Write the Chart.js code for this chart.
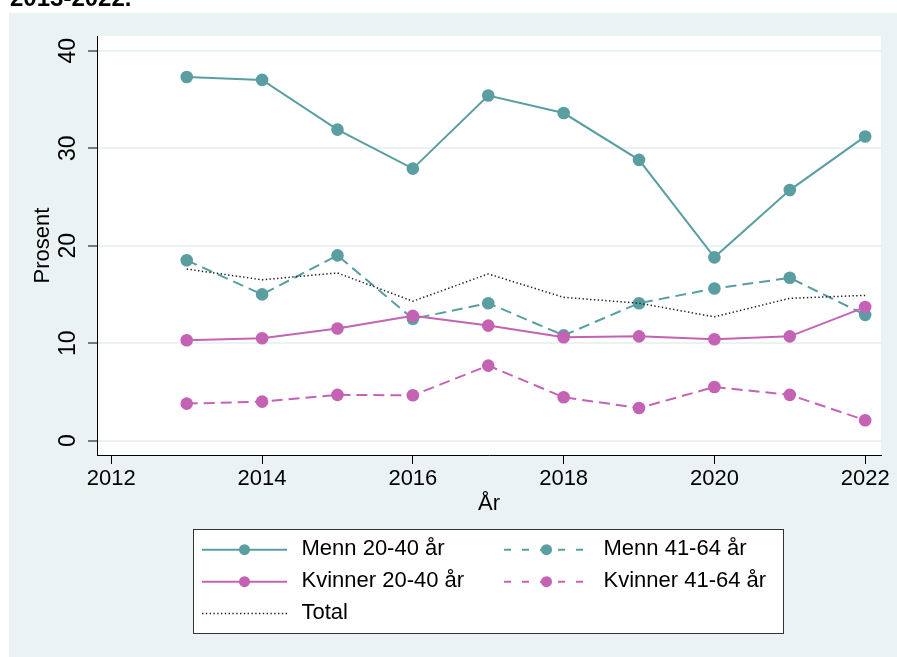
<!DOCTYPE html>
<html>
<head>
<meta charset="utf-8">
<script src="https://cdn.jsdelivr.net/npm/chart.js@4.4.1/dist/chart.umd.min.js"></script>
<style>
  body { margin: 0; background: #fff; }
  #wrap { position: relative; width: 897px; height: 657px; overflow: hidden; }
  #note { position: absolute; left: 10px; top: -14px; font: bold 24px "Liberation Sans", Arial, sans-serif; line-height: 24px; color: #000; white-space: nowrap; z-index: 2; }
  canvas { position: absolute; left: 0; top: 0; }
</style>
</head>
<body>
<div id="wrap">
  <div id="note">2013-2022.</div>
  <canvas id="chart" width="897" height="657"></canvas>
</div>
<script>
const years = [2013, 2014, 2015, 2016, 2017, 2018, 2019, 2020, 2021, 2022];
const mennYoung = [37.3, 37.0, 31.9, 27.9, 35.4, 33.6, 28.8, 18.8, 25.7, 31.2];
const mennOld = [18.5, 15.0, 19.0, 12.5, 14.1, 10.8, 14.1, 15.6, 16.7, 12.9];
const kvinnerYoung = [10.3, 10.5, 11.5, 12.8, 11.8, 10.6, 10.7, 10.4, 10.7, 13.7];
const kvinnerOld = [3.8, 4.0, 4.7, 4.65, 7.7, 4.45, 3.35, 5.5, 4.7, 2.1];
const total = [17.6, 16.5, 17.2, 14.3, 17.1, 14.7, 14.1, 12.7, 14.6, 14.9];
const seriesNames = ['Menn 20-40 år', 'Menn 41-64 år', 'Kvinner 20-40 år', 'Kvinner 41-64 år', 'Total'];
const xTicks = [2012, 2014, 2016, 2018, 2020, 2022];
const yTicks = [0, 10, 20, 30, 40];

const teal = '#5a9ea1';
const pink = '#c463b3';
const bg = '#eaf2f3';
const FONT = '"Liberation Sans", Arial, sans-serif';

Chart.defaults.font.family = FONT;
Chart.defaults.color = '#000';

const pts = arr => years.map((y, i) => ({ x: y, y: arr[i] }));

function series(label, values, color, dash, order) {
  return {
    label: label,
    data: pts(values),
    borderColor: color,
    backgroundColor: color,
    pointBackgroundColor: color,
    borderWidth: 2,
    borderDash: dash,
    pointRadius: 6.3,
    pointHoverRadius: 6.3,
    pointBorderWidth: 0,
    tension: 0,
    order: order
  };
}

const datasets = [
  series(seriesNames[0], mennYoung, teal, [], 4),
  series(seriesNames[1], mennOld, teal, [11, 6], 3),
  series(seriesNames[2], kvinnerYoung, pink, [], 2),
  series(seriesNames[3], kvinnerOld, pink, [11, 6], 1),
  {
    label: seriesNames[4],
    data: pts(total),
    borderColor: '#222',
    borderWidth: 1.5,
    borderDash: [1.4, 2.4],
    pointRadius: 0,
    order: 0
  }
];

// grey graph region + white plot region
const backdrop = {
  id: 'backdrop',
  beforeDraw(chart) {
    const { ctx, chartArea: a } = chart;
    ctx.save();
    ctx.fillStyle = bg;
    ctx.fillRect(9, 13, chart.width - 9, chart.height - 13);
    ctx.fillStyle = '#fff';
    ctx.fillRect(a.left, a.top, a.right - a.left, a.bottom - a.top);
    ctx.restore();
  }
};

// boxed two-column legend like Stata
const boxLegend = {
  id: 'boxLegend',
  afterDraw(chart) {
    const ctx = chart.ctx;
    const rows = [549.7, 581.7, 613.5];
    const lineX = [[202, 287], [504, 589]];
    const markX = [244.5, 546.5];
    const textX = [301.5, 603.5];
    ctx.save();
    ctx.fillStyle = '#fff';
    ctx.fillRect(193.5, 529.5, 590, 104);
    ctx.strokeStyle = '#333';
    ctx.lineWidth = 1;
    ctx.strokeRect(193.5, 529.5, 590, 104);
    chart.data.datasets.forEach((ds, i) => {
      const col = i % 2, y = rows[Math.floor(i / 2)];
      ctx.strokeStyle = ds.borderColor;
      ctx.lineWidth = ds.pointRadius ? 2 : 1.3;
      let dash = ds.borderDash || [];
      if (dash.length && ds.pointRadius) dash = [7, 11];
      ctx.setLineDash(dash);
      ctx.beginPath();
      ctx.moveTo(lineX[col][0], y);
      ctx.lineTo(lineX[col][1], y);
      ctx.stroke();
      ctx.setLineDash([]);
      if (ds.pointRadius) {
        ctx.fillStyle = ds.borderColor;
        ctx.beginPath();
        ctx.arc(markX[col], y, 5.5, 0, Math.PI * 2);
        ctx.fill();
      }
      ctx.fillStyle = '#000';
      ctx.font = '22px ' + FONT;
      ctx.textBaseline = 'alphabetic';
      ctx.textAlign = 'left';
      ctx.fillText(ds.label, textX[col], y + 5.5);
    });
    ctx.restore();
  }
};

new Chart(document.getElementById('chart'), {
  type: 'line',
  data: { datasets: datasets },
  plugins: [backdrop, boxLegend],
  options: {
    responsive: false,
    animation: false,
    devicePixelRatio: 1,
    layout: { padding: { left: 0, top: 36, right: 16, bottom: 122 } },
    plugins: { legend: { display: false }, tooltip: { enabled: false } },
    scales: {
      x: {
        type: 'linear',
        min: 2011.81,
        max: 2022.21,
        afterBuildTicks: s => { s.ticks = xTicks.map(v => ({ value: v })); },
        afterFit: s => { s.height = 80; s.paddingLeft = 0; s.paddingRight = 0; },
        ticks: { callback: v => String(v), font: { size: 22 }, padding: 2, maxRotation: 0, autoSkip: false },
        grid: { drawOnChartArea: false, tickLength: 9, tickColor: '#000', tickWidth: 1 },
        border: { display: true, color: '#000', width: 1 },
        title: { display: true, text: 'År', font: { size: 22 }, padding: { top: 0, bottom: 17.6 } }
      },
      y: {
        min: -1.47,
        max: 41.5,
        afterBuildTicks: s => { s.ticks = yTicks.map(v => ({ value: v })); },
        afterFit: s => { s.width = 97; s.paddingTop = 0; s.paddingBottom = 0; },
        ticks: { font: { size: 23 }, minRotation: 90, maxRotation: 90, crossAlign: 'center', padding: 7 },
        grid: { color: bg, lineWidth: 2, tickLength: 9, tickColor: '#000', tickWidth: 1 },
        border: { display: true, color: '#000', width: 1 },
        title: { display: true, text: 'Prosent', font: { size: 22 }, padding: { top: 30, bottom: 0 } }
      }
    }
  }
});
</script>
</body>
</html>
